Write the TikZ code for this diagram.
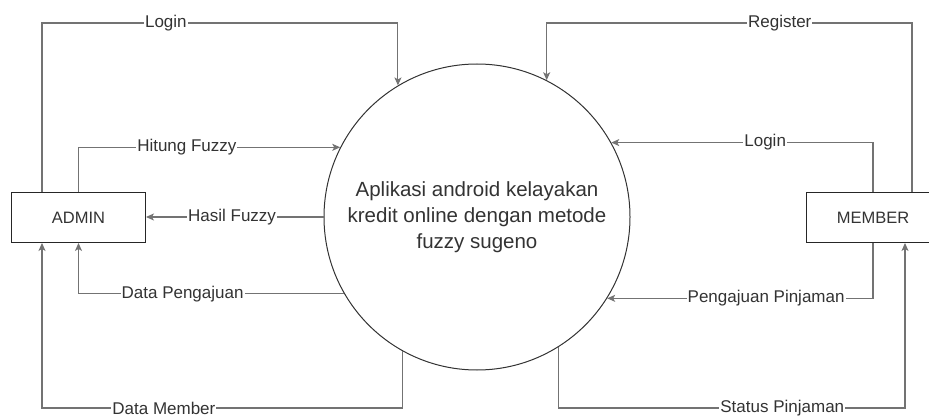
\documentclass[tikz,border=0pt]{standalone}
\usepackage{fontspec}
\setmainfont{Liberation Sans}
\usetikzlibrary{arrows.meta}

\tikzset{
  entity/.style={draw=black!85, line width=0.9pt, minimum width=134pt, minimum height=50pt, inner sep=0pt, font=\fontsize{16.5}{20}\selectfont, text=black!80},
  proc/.style={circle, draw=black!80, line width=1pt, minimum size=306pt, inner sep=0pt, align=center, font=\fontsize{20.5}{26}\selectfont, text=black!80},
  flow/.style={draw=black!55, line width=1.1pt, -{Stealth[length=8pt,width=7pt,inset=2pt]}},
  lbl/.style={fill=white, inner xsep=1pt, inner ysep=0pt, font=\fontsize{17}{20}\selectfont, text=black!80}
}

\begin{document}
\begin{tikzpicture}[x=1pt, y=-1pt]
\useasboundingbox (0,0) rectangle (929,417);
\clip (0,0) rectangle (929,417);

\node[proc] (app) at (477,217) {Aplikasi android kelayakan\\kredit online dengan metode\\fuzzy sugeno};
\node[entity] (admin) at (78.5,217.5) {ADMIN};
\node[entity] (member) at (873,217.5) {MEMBER};
\coordinate (top) at (0,23);
\coordinate (bot) at (0,408);

\draw[flow] ([xshift=-36.5pt]admin.north) |- node[lbl, pos=0.674] {Login} (app.121 |- top) -- (app.121);
\draw[flow] (admin.north) |- node[lbl, pos=0.707] {Hitung Fuzzy} (app.153);
\draw[flow] (app.west) -- node[lbl, pos=0.515] {Hasil Fuzzy} (app.west -| admin.east);
\draw[flow] (app.210) -| node[lbl, pos=0.304] {Data Pengajuan} (admin.south);
\draw[flow] (app.241) -- (app.241 |- bot) -| node[lbl, pos=0.331] {Data Member} ([xshift=-36.5pt]admin.south);

\draw[flow] ([xshift=39pt]member.north) |- node[lbl, pos=0.681] {Register} (app.63 |- top) -- (app.63);
\draw[flow] (member.north) |- node[lbl, pos=0.706] {Login} (app.29);
\draw[flow] (member.south) |- node[lbl, pos=0.701] {Pengajuan Pinjaman} (app.328);
\draw[flow] (app.302) -- (app.302 |- bot) -| node[lbl, pos=0.323] {Status Pinjaman} ([xshift=32pt]member.south);

\end{tikzpicture}
\end{document}
